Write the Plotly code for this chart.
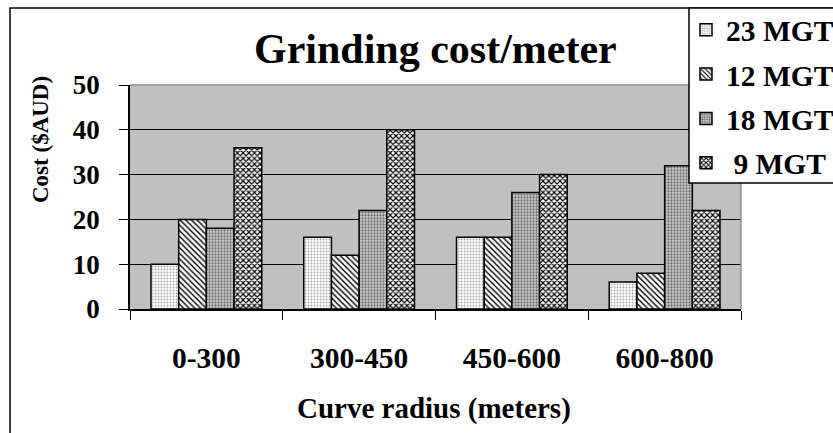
import plotly.graph_objects as go

# Grinding cost per meter of rail by curve radius band and annual tonnage
categories = ["0-300", "300-450", "450-600", "600-800"]
series_names = ["23 MGT", "12 MGT", "18 MGT", "\u00a09 MGT"]
cost_23 = [10, 16, 16, 6]
cost_12 = [20, 12, 16, 8]
cost_18 = [18, 22, 26, 32]
cost_9 = [36, 40, 30, 22]
y_ticks = [0, 10, 20, 30, 40, 50]

FONT = "Liberation Serif"

W, H = 833, 433
ML, MR, MT, MB = 130, 92, 85, 124
PW, PH = W - ML - MR, H - MT - MB


def px_x(px):
    return (px - ML) / PW


def px_y(py):
    return (H - MB - py) / PH


styles = [
    dict(shape=".", fgcolor="#a8a8a8", bgcolor="#ffffff", size=3, solidity=0.3),
    dict(shape="\\", fgcolor="#000000", bgcolor="#ffffff", size=4, solidity=0.35),
    dict(shape=".", fgcolor="#6e6e6e", bgcolor="#d0d0d0", size=3, solidity=0.45),
    dict(shape="x", fgcolor="#000000", bgcolor="#ffffff", size=4, solidity=0.5),
]

fig = go.Figure()
for name, vals, st in zip(series_names, [cost_23, cost_12, cost_18, cost_9], styles):
    fig.add_trace(go.Bar(
        x=categories, y=vals, name=name, legendgroup=name,
        marker=dict(color=st["bgcolor"], line=dict(color="#000000", width=1.5),
                    pattern=dict(shape=st["shape"], fgcolor=st["fgcolor"],
                                 bgcolor=st["bgcolor"], size=st["size"],
                                 solidity=st["solidity"], fillmode="replace")),
    ))

shapes = [
    # outer chart frame
    dict(type="rect", xref="paper", yref="paper", x0=px_x(10), x1=px_x(900),
         y0=px_y(460), y1=px_y(8), line=dict(color="#000000", width=1.5),
         fillcolor="rgba(0,0,0,0)", layer="below"),
    # plot area border (top/right)
    dict(type="line", xref="paper", yref="paper", x0=0, x1=1, y0=1, y1=1,
         line=dict(color="#909090", width=1.5), layer="above"),
    dict(type="line", xref="paper", yref="paper", x0=1, x1=1, y0=0, y1=1,
         line=dict(color="#909090", width=1.5), layer="above"),
    # legend box
    dict(type="rect", xref="paper", yref="paper", x0=px_x(689), x1=px_x(900),
         y0=px_y(183), y1=px_y(8), line=dict(color="#000000", width=1.5),
         fillcolor="#ffffff", layer="above"),
]

annotations = [
    dict(text="<b>Grinding cost/meter</b>", xref="paper", yref="paper",
         x=px_x(435), y=px_y(49), xanchor="center", yanchor="middle",
         showarrow=False, font=dict(family=FONT, size=42, color="#000000")),
    dict(text="<b>Curve radius (meters)</b>", xref="paper", yref="paper",
         x=px_x(434), y=px_y(408), xanchor="center", yanchor="middle",
         showarrow=False, font=dict(family=FONT, size=29, color="#000000")),
    dict(text="<b>Cost ($AUD)</b>", xref="paper", yref="paper",
         x=px_x(40), y=px_y(140), xanchor="center", yanchor="middle",
         textangle=-90, showarrow=False,
         font=dict(family=FONT, size=23, color="#000000")),
]

fig.update_layout(
    width=W, height=H,
    margin=dict(l=ML, r=MR, t=MT, b=MB, autoexpand=False),
    paper_bgcolor="#ffffff", plot_bgcolor="#c0c0c0",
    barmode="group", bargap=0.275, bargroupgap=0,
    font=dict(family=FONT, color="#000000"),
    shapes=shapes, annotations=annotations,
    showlegend=True,
    legend=dict(x=px_x(686), y=px_y(4), xanchor="left", yanchor="top",
                bgcolor="rgba(0,0,0,0)", borderwidth=0,
                font=dict(family=FONT, size=29.5, color="#000000", weight="bold"),
                tracegroupgap=3, traceorder="grouped"),
)

fig.update_xaxes(
    type="category", showline=True, linecolor="#000000", linewidth=1.5,
    ticks="outside", tickson="boundaries", ticklen=9, tickcolor="#000000",
    tickwidth=1, ticklabelstandoff=22, showgrid=False,
    tickfont=dict(family=FONT, size=29.5, color="#000000", weight="bold"),
)
fig.update_yaxes(
    range=[0, 50], tickvals=y_ticks, showline=True, linecolor="#000000",
    linewidth=1.5, ticks="outside", ticklen=9, tickcolor="#000000", tickwidth=1,
    ticklabelstandoff=14, showgrid=True, gridcolor="#000000", gridwidth=1,
    zeroline=False,
    tickfont=dict(family=FONT, size=27, color="#000000", weight="bold"),
)

fig.write_html("out.html")
